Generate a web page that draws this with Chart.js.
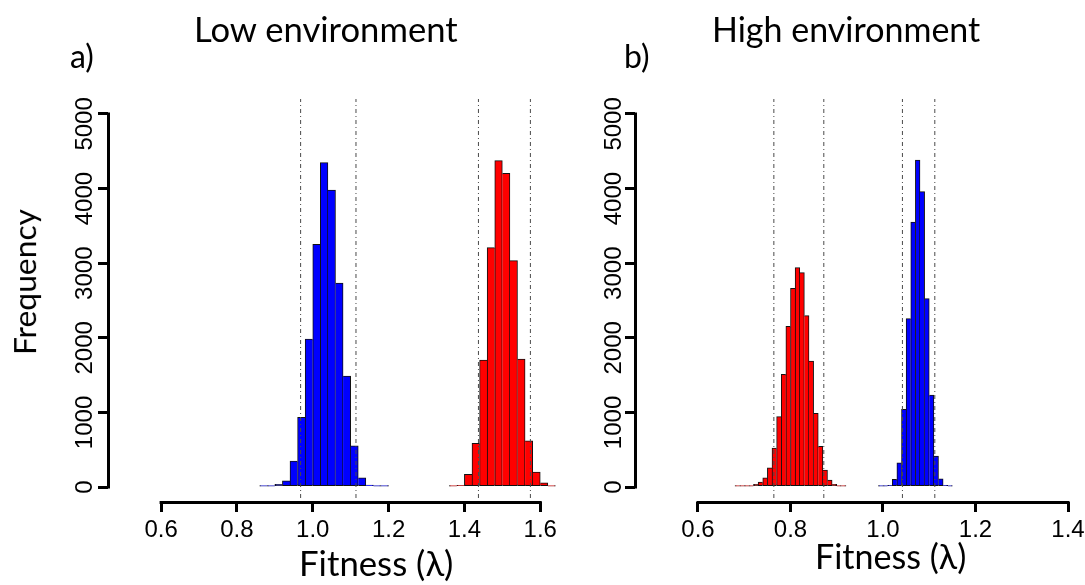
<!DOCTYPE html>
<html><head><meta charset="utf-8">
<script src="https://cdn.jsdelivr.net/npm/chart.js@4"></script>
<style>
html,body{margin:0;padding:0;background:#fff;overflow:hidden;width:1085px;height:585px;}
#wrap{position:relative;width:1085px;height:585px;overflow:hidden;}
canvas{position:absolute;top:0;}
.t{position:absolute;left:0;top:0;font-family:Lato,'Open Sans',sans-serif;color:#000;white-space:nowrap;}
</style></head><body>
<div id="wrap">
<canvas id="cLow" width="563" height="585" style="left:0;width:563px;height:585px"></canvas>
<canvas id="cHigh" width="547" height="585" style="left:563px;width:547px;height:585px"></canvas>
</div>
<script>
// ---------- data ----------
const lowBlueBins   = [0.87,0.89,0.91,0.93,0.95,0.97,0.99,1.01,1.03,1.05,1.07,1.09,1.11,1.13,1.15,1.17,1.19];
const lowBlueCounts = [2,6,36,85,348,934,1984,3253,4348,3981,2735,1488,554,125,27,6,1];
const lowRedBins    = [1.37,1.39,1.41,1.43,1.45,1.47,1.49,1.51,1.53,1.55,1.57,1.59,1.61,1.63];
const lowRedCounts  = [3,23,170,585,1702,3208,4374,4205,3034,1716,621,201,58,10];
const highRedBins   = [0.685,0.695,0.705,0.715,0.725,0.735,0.745,0.755,0.765,0.775,0.785,0.795,0.805,0.815,0.825,0.835,0.845,0.855,0.865,0.875,0.885,0.895,0.905,0.915];
const highRedCounts = [1,2,5,13,36,67,125,259,523,943,1510,2154,2663,2940,2873,2297,1689,988,545,228,94,36,10,3];
const highBlueBins  = [0.995,1.005,1.015,1.025,1.035,1.045,1.055,1.065,1.075,1.085,1.095,1.105,1.115,1.125,1.135,1.145];
const highBlueCounts= [2,5,22,103,326,1041,2257,3552,4383,3959,2525,1233,415,112,22,5];
const lowCI  = [0.968,1.114,1.437,1.574];
const highCI = [0.764,0.872,1.042,1.112];
const lowXTicks  = [0.6,0.8,1.0,1.2,1.4,1.6];
const highXTicks = [0.6,0.8,1.0,1.2,1.4];
const yTicks = [0,1000,2000,3000,4000,5000];
const Y_MIN = -200, Y_MAX = 5200;

const TICK_FONT = {family:"'Liberation Sans', Arial, Helvetica, sans-serif", size:24};

function barData(bins, counts){ return bins.map((b,i)=>({x:b, y:counts[i]})); }

function edgeWidths(c){
  const d = c.dataset.data, i = c.dataIndex;
  if (!d[i]) return 1;
  const v = d[i].y, p = i>0 ? d[i-1].y : 0, n = i<d.length-1 ? d[i+1].y : 0;
  return {top:1, bottom:1, left: p<=v ? 1 : 0, right: n<v ? 1 : 0};
}

function barSet(bins, counts, color){
  return {type:'bar', data:barData(bins,counts), backgroundColor:color, borderColor:'#111',
    borderWidth:edgeWidths, borderSkipped:false, grouped:false, barPercentage:1, categoryPercentage:1,
    minBarLength:1, order:2};
}
function lineSet(v){
  return {type:'line', data:[{x:v,y:Y_MIN},{x:v,y:Y_MAX}], borderColor:'#4a4a4a', borderWidth:1,
    borderDash:[1,3,4,3], pointRadius:0, fill:false, order:0, tension:0};
}

const axisLines = {
  id:'axisLines',
  afterDraw(chart){
    const {ctx, scales:{x,y}, chartArea} = chart;
    const xt = chart.options.plugins.axisLines.xTicks;
    ctx.save();
    ctx.strokeStyle='#000'; ctx.lineWidth=3; ctx.lineCap='butt';
    ctx.beginPath();
    const xl = Math.round(chartArea.left)+0.5;
    ctx.moveTo(xl, y.getPixelForValue(yTicks[0])+1.5);
    ctx.lineTo(xl, y.getPixelForValue(yTicks[yTicks.length-1])-1.5);
    const yb = Math.round(chartArea.bottom)+0.5;
    ctx.moveTo(x.getPixelForValue(xt[0])-1.5, yb);
    ctx.lineTo(x.getPixelForValue(xt[xt.length-1])+1.5, yb);
    ctx.stroke();
    ctx.restore();
  }
};

// y labels in the reference sit slightly below their ticks (except the single "0")
const yLabel = (v) => { const s = String(v); return s.length > 1 ? s + '   ' : s; };

function makeChart(id, cfg){
  return new Chart(document.getElementById(id), {
    type:'bar',
    data:{datasets:[
      barSet(cfg.blueBins, cfg.blueCounts, '#0000ff'),
      barSet(cfg.redBins, cfg.redCounts, '#ff0000'),
      ...cfg.ci.map(lineSet)
    ]},
    plugins:[axisLines],
    options:{
      responsive:false, animation:false, devicePixelRatio:1,
      layout:{padding:{top:99,left:0,right:0,bottom:0}},
      plugins:{legend:{display:false}, tooltip:{enabled:false}, title:{display:false},
        axisLines:{xTicks:cfg.xTicks}},
      scales:{
        x:{type:'linear', min:cfg.xMin, max:cfg.xMax, offset:false,
          afterBuildTicks(s){ s.ticks = cfg.xTicks.map(v=>({value:v})); },
          afterFit(s){ s.height = 83; },
          ticks:{autoSkip:false, maxRotation:0, minRotation:0, font:TICK_FONT, color:'#000', padding:4,
            callback:(v)=>Number(v).toFixed(1)},
          grid:{display:true, drawOnChartArea:false, drawTicks:true, tickLength:10, lineWidth:3, color:'#000', offset:false},
          border:{display:false}
        },
        y:{type:'linear', min:Y_MIN, max:Y_MAX,
          afterBuildTicks(s){ s.ticks = yTicks.map(v=>({value:v})); },
          afterFit(s){ s.width = cfg.yWidth; },
          ticks:{autoSkip:false, minRotation:90, maxRotation:90, crossAlign:'center', padding:cfg.yPad,
            font:TICK_FONT, color:'#000', callback:yLabel},
          grid:{display:true, drawOnChartArea:false, drawTicks:true, tickLength:10, lineWidth:3, color:'#000'},
          border:{display:false}
        }
      }
    }
  });
}

makeChart('cLow', {blueBins:lowBlueBins, blueCounts:lowBlueCounts, redBins:lowRedBins, redCounts:lowRedCounts,
  ci:lowCI, xTicks:lowXTicks, xMin:0.46, xMax:1.66, yWidth:108, yPad:-13.7 - 10});
makeChart('cHigh', {blueBins:highBlueBins, blueCounts:highBlueCounts, redBins:highRedBins, redCounts:highRedCounts,
  ci:highCI, xTicks:highXTicks, xMin:0.4638, xMax:1.4908, yWidth:72, yPad:-15.7 - 10});

// ---------- text labels ----------
const FONT = "Lato, 'Open Sans', sans-serif";
const labels = [
  {text:'Low environment', x:197, w:261, base:43},
  {text:'High environment', x:715, w:265, base:43},
  {text:'a)', x:71, size:32, base:68},
  {text:'b)', x:626, size:32, base:68},
  {text:'Fitness (λ)', x:302, w:150, base:577},
  {text:'Fitness (λ)', x:818, w:147, base:570},
  {text:'Frequency', rot:true, y:353, w:143, base:37}
];
const mctx = document.createElement('canvas').getContext('2d');
const wrap = document.getElementById('wrap');
labels.forEach(t=>{
  let size = t.size;
  if (!size) {
    mctx.font = '100px ' + FONT;
    const m = mctx.measureText(t.text);
    size = 100 * t.w / (m.actualBoundingBoxLeft + m.actualBoundingBoxRight);
  }
  mctx.font = size + 'px ' + FONT;
  const m2 = mctx.measureText(t.text);
  const asc = m2.fontBoundingBoxAscent, desc = m2.fontBoundingBoxDescent;
  const baseOff = (size - (asc + desc)) / 2 + asc;
  const d = document.createElement('div');
  d.className = 't';
  d.textContent = t.text;
  d.style.fontSize = size + 'px';
  d.style.lineHeight = size + 'px';
  if (!t.rot) {
    d.style.left = (t.x + m2.actualBoundingBoxLeft) + 'px';
    d.style.top = (t.base - baseOff) + 'px';
  } else {
    d.style.transformOrigin = '0 0';
    const X = t.base - baseOff, Y = t.y - m2.actualBoundingBoxLeft;
    d.style.transform = 'translate(' + X + 'px,' + Y + 'px) rotate(-90deg)';
  }
  wrap.appendChild(d);
});
</script>
</body></html>
